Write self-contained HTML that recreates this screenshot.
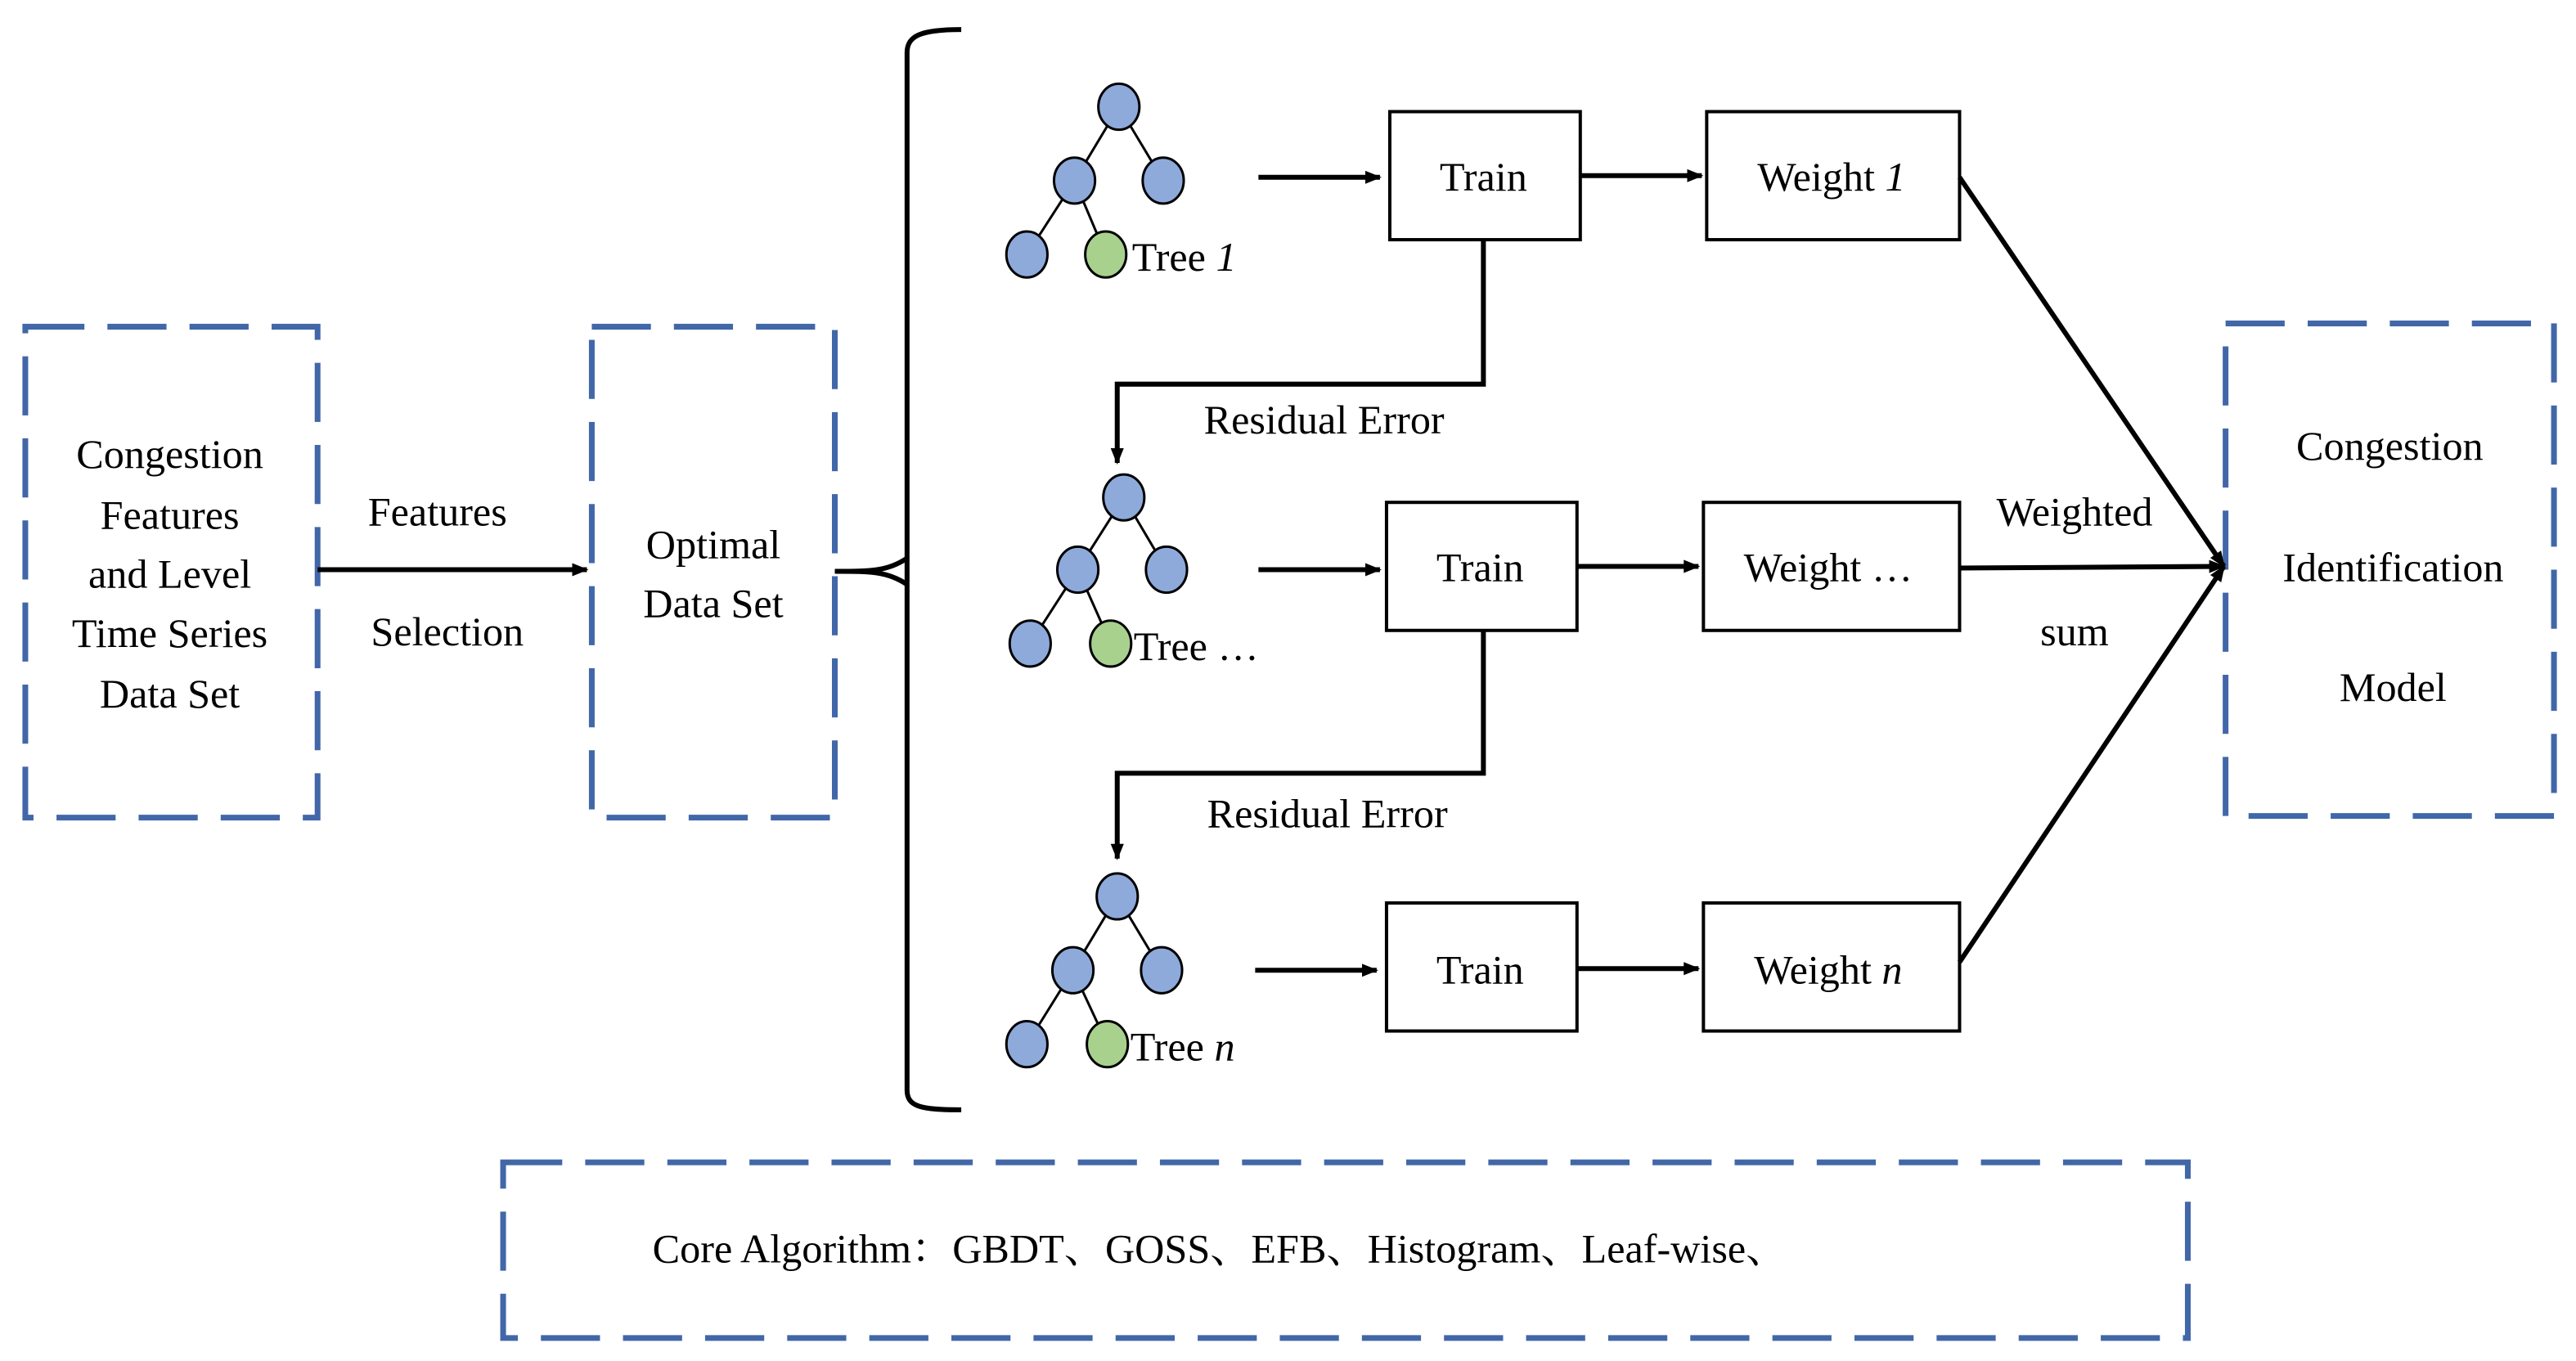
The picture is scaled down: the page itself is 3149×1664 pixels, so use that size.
<!DOCTYPE html>
<html><head><meta charset="utf-8"><style>html,body{margin:0;padding:0;background:#fff}svg{display:block}text{font-family:"Liberation Serif","Noto Serif CJK SC",serif;font-size:25px}</style></head><body>
<svg width="3149" height="1664" viewBox="0 0 1568 829" xmlns="http://www.w3.org/2000/svg">
<defs>
<marker id="ah" markerWidth="10" markerHeight="8" refX="9" refY="4" orient="auto" markerUnits="userSpaceOnUse"><path d="M0,0 L10,4 L0,8 z" fill="#000"/></marker>
</defs>
<g fill="none" stroke="#4267a8" stroke-width="3.5" stroke-dasharray="36,14">
<rect x="15" y="199" width="178" height="299"/>
<rect x="360" y="199" width="148" height="299"/>
<rect x="1355" y="197" width="200" height="300"/>
<rect x="306" y="708" width="1026" height="107"/>
</g>
<g stroke="#000" stroke-width="2" fill="#fff">
<rect x="846" y="68" width="116" height="78"/>
<rect x="844" y="306" width="116" height="78"/>
<rect x="844" y="550" width="116" height="78"/>
<rect x="1039" y="68" width="154" height="78"/>
<rect x="1037" y="306" width="156" height="78"/>
<rect x="1037" y="550" width="156" height="78"/>
</g>
<g text-anchor="middle" fill="#000">
<text x="103" y="285">Congestion</text>
<text x="103" y="322">Features</text>
<text x="103" y="358">and Level</text>
<text x="103" y="394">Time Series</text>
<text x="103" y="431">Data Set</text>
<text x="266" y="320">Features</text>
<text x="272" y="393">Selection</text>
<text x="434" y="340">Optimal</text>
<text x="434" y="376">Data Set</text>
<text x="1455" y="280">Congestion</text>
<text x="1457" y="354">Identification</text>
<text x="1457" y="427">Model</text>
<text x="1263" y="320">Weighted</text>
<text x="1263" y="393">sum</text>
<text x="806" y="264">Residual Error</text>
<text x="808" y="504">Residual Error</text>
<text x="903" y="116">Train</text>
<text x="901" y="354">Train</text>
<text x="901" y="599">Train</text>
<text x="1115" y="116">Weight <tspan font-style="italic">1</tspan></text>
<text x="1113" y="354">Weight …</text>
<text x="1113" y="599">Weight <tspan font-style="italic">n</tspan></text>
</g>
<text x="397" y="769">Core Algorithm：GBDT、GOSS、EFB、Histogram、Leaf-wise、</text>
<text x="689" y="165">Tree <tspan font-style="italic">1</tspan></text>
<text x="690" y="402">Tree …</text>
<text x="688" y="646">Tree <tspan font-style="italic">n</tspan></text>
<g stroke="#000" stroke-width="3" fill="none">
<line x1="193" y1="347" x2="357" y2="347" marker-end="url(#ah)"/>
<path d="M508,348 C530,348 540,348 552,340 M508,348 C530,348 540,348 552,356"/>
<path d="M585,18 C560,18 552,22 552,32 L552,664 C552,674 560,676 585,676"/>
<line x1="766" y1="108" x2="840" y2="108" marker-end="url(#ah)"/>
<line x1="766" y1="347" x2="840" y2="347" marker-end="url(#ah)"/>
<line x1="764" y1="591" x2="838" y2="591" marker-end="url(#ah)"/>
<line x1="962" y1="107" x2="1036" y2="107" marker-end="url(#ah)"/>
<line x1="960" y1="345" x2="1034" y2="345" marker-end="url(#ah)"/>
<line x1="960" y1="590" x2="1034" y2="590" marker-end="url(#ah)"/>
<path d="M903,146 L903,234 L680,234 L680,282" marker-end="url(#ah)"/>
<path d="M903,384 L903,471 L680,471 L680,523" marker-end="url(#ah)"/>
<line x1="1193" y1="108" x2="1354" y2="345" marker-end="url(#ah)"/>
<line x1="1193" y1="346" x2="1354" y2="345" marker-end="url(#ah)"/>
<line x1="1193" y1="586" x2="1354" y2="345" marker-end="url(#ah)"/>
</g>
<g stroke="#000" stroke-width="1.5">
<g><line x1="681" y1="65" x2="654" y2="110"/><line x1="681" y1="65" x2="708" y2="110"/><line x1="654" y1="110" x2="625" y2="155"/><line x1="654" y1="110" x2="673" y2="155"/>
<g fill="#8eaadb"><ellipse cx="681" cy="65" rx="12.5" ry="14"/><ellipse cx="654" cy="110" rx="12.5" ry="14"/><ellipse cx="708" cy="110" rx="12.5" ry="14"/><ellipse cx="625" cy="155" rx="12.5" ry="14"/></g><ellipse cx="673" cy="155" rx="12.5" ry="14" fill="#a9d18e"/></g>
<g><line x1="684" y1="303" x2="656" y2="347"/><line x1="684" y1="303" x2="710" y2="347"/><line x1="656" y1="347" x2="627" y2="392"/><line x1="656" y1="347" x2="676" y2="392"/>
<g fill="#8eaadb"><ellipse cx="684" cy="303" rx="12.5" ry="14"/><ellipse cx="656" cy="347" rx="12.5" ry="14"/><ellipse cx="710" cy="347" rx="12.5" ry="14"/><ellipse cx="627" cy="392" rx="12.5" ry="14"/></g><ellipse cx="676" cy="392" rx="12.5" ry="14" fill="#a9d18e"/></g>
<g><line x1="680" y1="546" x2="653" y2="591"/><line x1="680" y1="546" x2="707" y2="591"/><line x1="653" y1="591" x2="625" y2="636"/><line x1="653" y1="591" x2="674" y2="636"/>
<g fill="#8eaadb"><ellipse cx="680" cy="546" rx="12.5" ry="14"/><ellipse cx="653" cy="591" rx="12.5" ry="14"/><ellipse cx="707" cy="591" rx="12.5" ry="14"/><ellipse cx="625" cy="636" rx="12.5" ry="14"/></g><ellipse cx="674" cy="636" rx="12.5" ry="14" fill="#a9d18e"/></g>
</g>
</svg>
</body></html>
